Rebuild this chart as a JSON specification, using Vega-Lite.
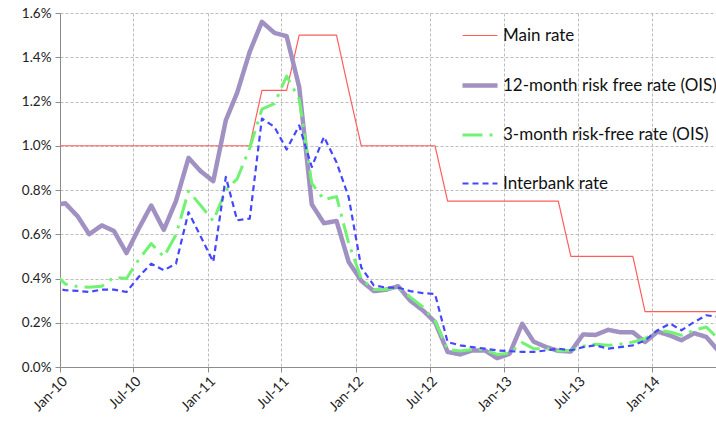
{
  "$schema": "https://vega.github.io/schema/vega-lite/v6.json",
  "width": 656,
  "height": 354,
  "autosize": {"type": "none"},
  "padding": {"left": 60, "top": 13, "right": 0, "bottom": 56},
  "background": "white",
  "config": {
    "font": "Lato",
    "view": {"stroke": null},
    "axis": {
      "labelFont": "Lato",
      "labelFontSize": 13.5,
      "labelColor": "#222222",
      "domainColor": "#8C8C8C",
      "tickColor": "#8C8C8C",
      "tickSize": 5,
      "gridColor": "#BDBDBD",
      "gridDash": [3, 2],
      "gridWidth": 1,
      "title": null
    },
    "legend": {
      "title": null,
      "orient": "none",
      "legendX": 400,
      "legendY": 4,
      "symbolType": "stroke",
      "symbolSize": 1225,
      "labelFontSize": 17,
      "labelColor": "#111111",
      "labelOffset": 3,
      "rowPadding": 21.5,
      "padding": 0,
      "labelLimit": 400
    }
  },
  "data": {
    "values": [
      {"d": "2009-12-14", "main": 1.0, "y12": 0.73, "m3": 0.43, "ib": 0.36},
      {"d": "2010-01-14", "main": 1.0, "y12": 0.74, "m3": 0.375, "ib": 0.347},
      {"d": "2010-02-14", "main": 1.0, "y12": 0.68, "m3": 0.363, "ib": 0.344},
      {"d": "2010-03-14", "main": 1.0, "y12": 0.60, "m3": 0.36, "ib": 0.339},
      {"d": "2010-04-14", "main": 1.0, "y12": 0.64, "m3": 0.365, "ib": 0.35},
      {"d": "2010-05-14", "main": 1.0, "y12": 0.615, "m3": 0.405, "ib": 0.35},
      {"d": "2010-06-14", "main": 1.0, "y12": 0.515, "m3": 0.40, "ib": 0.339},
      {"d": "2010-07-14", "main": 1.0, "y12": 0.625, "m3": 0.485, "ib": 0.407},
      {"d": "2010-08-14", "main": 1.0, "y12": 0.73, "m3": 0.558, "ib": 0.467},
      {"d": "2010-09-14", "main": 1.0, "y12": 0.62, "m3": 0.498, "ib": 0.437},
      {"d": "2010-10-14", "main": 1.0, "y12": 0.75, "m3": 0.597, "ib": 0.467},
      {"d": "2010-11-14", "main": 1.0, "y12": 0.945, "m3": 0.795, "ib": 0.70},
      {"d": "2010-12-14", "main": 1.0, "y12": 0.885, "m3": 0.73, "ib": 0.59},
      {"d": "2011-01-14", "main": 1.0, "y12": 0.84, "m3": 0.66, "ib": 0.475},
      {"d": "2011-02-14", "main": 1.0, "y12": 1.115, "m3": 0.80, "ib": 0.859},
      {"d": "2011-03-14", "main": 1.0, "y12": 1.24, "m3": 0.85, "ib": 0.663},
      {"d": "2011-04-14", "main": 1.0, "y12": 1.425, "m3": 0.99, "ib": 0.671},
      {"d": "2011-05-14", "main": 1.25, "y12": 1.56, "m3": 1.165, "ib": 1.123},
      {"d": "2011-06-14", "main": 1.25, "y12": 1.51, "m3": 1.19, "ib": 1.085},
      {"d": "2011-07-14", "main": 1.25, "y12": 1.495, "m3": 1.315, "ib": 0.983},
      {"d": "2011-08-14", "main": 1.5, "y12": 1.265, "m3": 1.21, "ib": 1.092},
      {"d": "2011-09-14", "main": 1.5, "y12": 0.735, "m3": 0.83, "ib": 0.904},
      {"d": "2011-10-14", "main": 1.5, "y12": 0.65, "m3": 0.757, "ib": 1.04},
      {"d": "2011-11-14", "main": 1.5, "y12": 0.66, "m3": 0.77, "ib": 0.925},
      {"d": "2011-12-14", "main": 1.25, "y12": 0.475, "m3": 0.56, "ib": 0.768},
      {"d": "2012-01-14", "main": 1.0, "y12": 0.39, "m3": 0.40, "ib": 0.45},
      {"d": "2012-02-14", "main": 1.0, "y12": 0.343, "m3": 0.35, "ib": 0.369},
      {"d": "2012-03-14", "main": 1.0, "y12": 0.349, "m3": 0.35, "ib": 0.359},
      {"d": "2012-04-14", "main": 1.0, "y12": 0.365, "m3": 0.36, "ib": 0.359},
      {"d": "2012-05-14", "main": 1.0, "y12": 0.30, "m3": 0.316, "ib": 0.343},
      {"d": "2012-06-14", "main": 1.0, "y12": 0.256, "m3": 0.271, "ib": 0.334},
      {"d": "2012-07-14", "main": 1.0, "y12": 0.203, "m3": 0.208, "ib": 0.33},
      {"d": "2012-08-14", "main": 0.75, "y12": 0.068, "m3": 0.079, "ib": 0.113},
      {"d": "2012-09-14", "main": 0.75, "y12": 0.057, "m3": 0.072, "ib": 0.098},
      {"d": "2012-10-14", "main": 0.75, "y12": 0.075, "m3": 0.079, "ib": 0.09},
      {"d": "2012-11-14", "main": 0.75, "y12": 0.075, "m3": 0.079, "ib": 0.083},
      {"d": "2012-12-14", "main": 0.75, "y12": 0.04, "m3": 0.057, "ib": 0.075},
      {"d": "2013-01-14", "main": 0.75, "y12": 0.06, "m3": 0.063, "ib": 0.072},
      {"d": "2013-02-14", "main": 0.75, "y12": 0.195, "m3": 0.11, "ib": 0.068},
      {"d": "2013-03-14", "main": 0.75, "y12": 0.115, "m3": 0.083, "ib": 0.068},
      {"d": "2013-04-14", "main": 0.75, "y12": 0.09, "m3": 0.083, "ib": 0.075},
      {"d": "2013-05-14", "main": 0.75, "y12": 0.073, "m3": 0.072, "ib": 0.083},
      {"d": "2013-06-14", "main": 0.5, "y12": 0.07, "m3": 0.075, "ib": 0.075},
      {"d": "2013-07-14", "main": 0.5, "y12": 0.147, "m3": 0.094, "ib": 0.09},
      {"d": "2013-08-14", "main": 0.5, "y12": 0.145, "m3": 0.103, "ib": 0.098},
      {"d": "2013-09-14", "main": 0.5, "y12": 0.168, "m3": 0.098, "ib": 0.083},
      {"d": "2013-10-14", "main": 0.5, "y12": 0.157, "m3": 0.103, "ib": 0.09},
      {"d": "2013-11-14", "main": 0.5, "y12": 0.157, "m3": 0.113, "ib": 0.098},
      {"d": "2013-12-14", "main": 0.25, "y12": 0.113, "m3": 0.128, "ib": 0.12},
      {"d": "2014-01-14", "main": 0.25, "y12": 0.16, "m3": 0.166, "ib": 0.166},
      {"d": "2014-02-14", "main": 0.25, "y12": 0.142, "m3": 0.158, "ib": 0.196},
      {"d": "2014-03-14", "main": 0.25, "y12": 0.121, "m3": 0.143, "ib": 0.166},
      {"d": "2014-04-14", "main": 0.25, "y12": 0.153, "m3": 0.166, "ib": 0.203},
      {"d": "2014-05-14", "main": 0.25, "y12": 0.136, "m3": 0.181, "ib": 0.234},
      {"d": "2014-06-14", "main": 0.25, "y12": 0.07, "m3": 0.125, "ib": 0.226}
    ]
  },
  "transform": [
    {"fold": ["main", "y12", "m3", "ib"], "as": ["series", "value"]}
  ],
  "mark": {"type": "line", "clip": true, "strokeCap": "butt", "strokeJoin": "round"},
  "encoding": {
    "x": {
      "field": "d",
      "type": "temporal",
      "scale": {
        "type": "utc",
        "domain": [
          {"year": 2010, "month": 1, "date": 1, "utc": true},
          {"year": 2014, "month": 6, "date": 7, "utc": true}
        ]
      },
      "axis": {
        "values": [
          {"year": 2010, "month": 1, "date": 1, "utc": true},
          {"year": 2010, "month": 7, "date": 1, "utc": true},
          {"year": 2011, "month": 1, "date": 1, "utc": true},
          {"year": 2011, "month": 7, "date": 1, "utc": true},
          {"year": 2012, "month": 1, "date": 1, "utc": true},
          {"year": 2012, "month": 7, "date": 1, "utc": true},
          {"year": 2013, "month": 1, "date": 1, "utc": true},
          {"year": 2013, "month": 7, "date": 1, "utc": true},
          {"year": 2014, "month": 1, "date": 1, "utc": true}
        ],
        "labelExpr": "utcFormat(datum.value, '%b-%y')",
        "labelAngle": -45,
        "labelFontSize": 14,
        "labelDx": 4,
        "grid": true
      }
    },
    "y": {
      "field": "value",
      "type": "quantitative",
      "scale": {"domain": [0, 1.6], "nice": false},
      "axis": {
        "values": [0, 0.2, 0.4, 0.6, 0.8, 1.0, 1.2, 1.4, 1.6],
        "labelExpr": "format(datum.value, '.1f') + '%'",
        "grid": true,
        "labelPadding": 4
      }
    },
    "color": {
      "field": "series",
      "type": "nominal",
      "scale": {
        "domain": ["main", "y12", "m3", "ib"],
        "range": ["#FF5E5E", "#A091C2", "#72F272", "#4646FF"]
      },
      "legend": {
        "labelExpr": "datum.value == 'main' ? 'Main rate' : datum.value == 'y12' ? '12-month risk free rate (OIS)' : datum.value == 'm3' ? '3-month risk-free rate (OIS)' : 'Interbank rate'"
      }
    },
    "strokeWidth": {
      "field": "series",
      "type": "nominal",
      "scale": {
        "type": "ordinal",
        "domain": ["main", "y12", "m3", "ib"],
        "range": [1.2, 4.5, 3, 2.2]
      },
      "legend": {
        "labelExpr": "datum.value == 'main' ? 'Main rate' : datum.value == 'y12' ? '12-month risk free rate (OIS)' : datum.value == 'm3' ? '3-month risk-free rate (OIS)' : 'Interbank rate'"
      }
    },
    "strokeDash": {
      "field": "series",
      "type": "nominal",
      "scale": {
        "domain": ["main", "y12", "m3", "ib"],
        "range": [[1, 0], [1, 0], [20, 7, 3, 7], [6, 4]]
      },
      "legend": {
        "labelExpr": "datum.value == 'main' ? 'Main rate' : datum.value == 'y12' ? '12-month risk free rate (OIS)' : datum.value == 'm3' ? '3-month risk-free rate (OIS)' : 'Interbank rate'"
      }
    }
  }
}
